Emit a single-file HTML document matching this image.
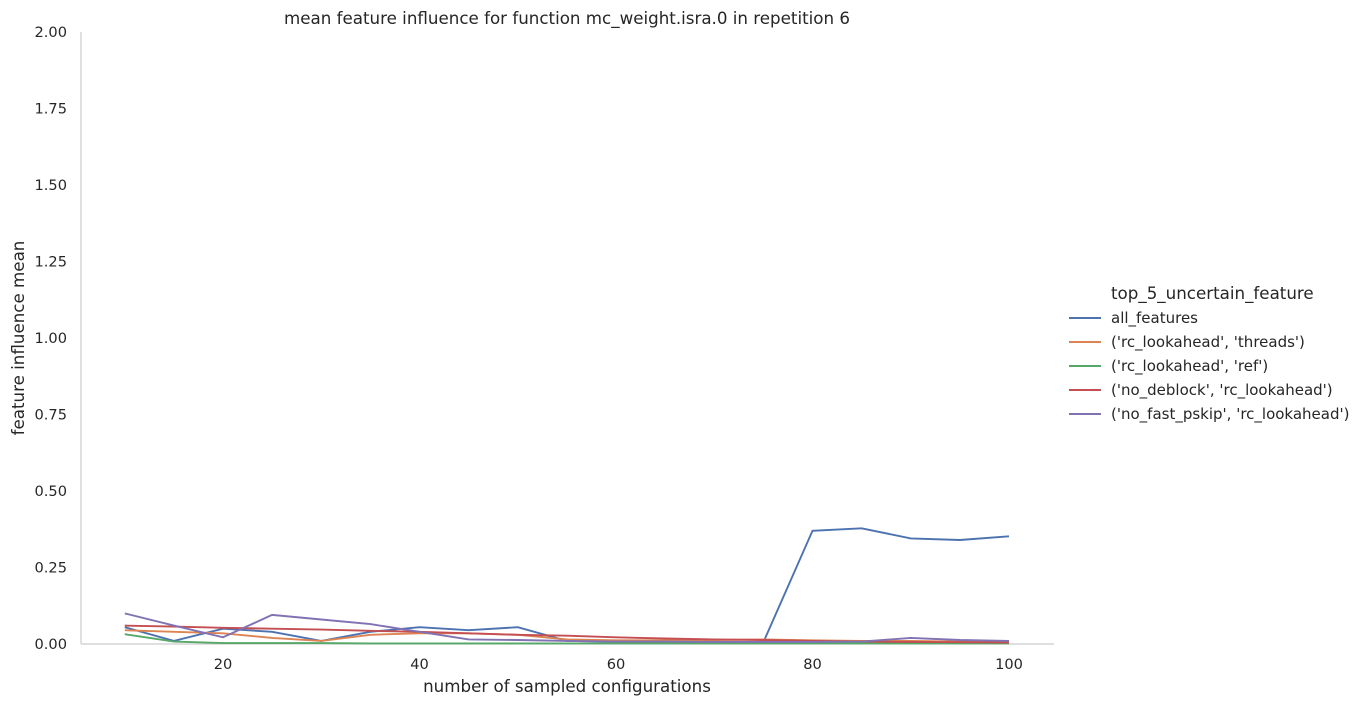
<!DOCTYPE html>
<html><head><meta charset="utf-8"><style>
body{margin:0;background:#fff;font-family:"DejaVu Sans","Liberation Sans",sans-serif;}
svg text{fill:#262626;font-family:"DejaVu Sans","Liberation Sans",sans-serif;}
</style></head><body>
<svg id="chart" width="1368" height="706"></svg>
<script>
const xValues=[10,15,20,25,30,35,40,45,50,55,60,65,70,75,80,85,90,95,100];
const seriesNames=["all_features","('rc_lookahead', 'threads')","('rc_lookahead', 'ref')","('no_deblock', 'rc_lookahead')","('no_fast_pskip', 'rc_lookahead')"];
const seriesColors=["#4c72b0","#dd8452","#55a868","#c44e52","#8172b3"];
const allFeatures=[0.055,0.01,0.05,0.04,0.01,0.04,0.055,0.045,0.055,0.01,0.008,0.007,0.006,0.006,0.37,0.378,0.345,0.34,0.352];
const threadsVals=[0.045,0.04,0.035,0.02,0.01,0.03,0.035,0.035,0.03,0.015,0.012,0.012,0.013,0.015,0.012,0.01,0.01,0.008,0.008];
const refVals=[0.032,0.008,0.003,0.003,0.003,0.002,0.002,0.002,0.002,0.002,0.002,0.002,0.002,0.002,0.002,0.002,0.002,0.002,0.002];
const deblockVals=[0.06,0.057,0.053,0.05,0.047,0.043,0.04,0.035,0.03,0.027,0.022,0.018,0.015,0.013,0.01,0.008,0.007,0.006,0.005];
const pskipVals=[0.1,0.06,0.022,0.095,0.08,0.065,0.04,0.015,0.013,0.01,0.008,0.008,0.007,0.007,0.007,0.008,0.02,0.013,0.01];
const allSeries=[allFeatures,threadsVals,refVals,deblockVals,pskipVals];
const xTicks=[20,40,60,80,100];
const yTicks=[0,0.25,0.5,0.75,1.0,1.25,1.5,1.75,2.0];
const NS="http://www.w3.org/2000/svg";
const svg=document.getElementById('chart');
const xs=v=>223+(v-20)*(1009-223)/80;
const ys=v=>644-v*306;
function mk(t,a,p){const e=document.createElementNS(NS,t);for(const k in a)e.setAttribute(k,a[k]);(p||svg).appendChild(e);return e;}
let e;
e=mk('line',{x1:81,y1:32,x2:81,y2:644,stroke:'#ccc','stroke-width':1.2});


e=mk('line',{x1:81,y1:644,x2:1054,y2:644,stroke:'#ccc','stroke-width':1.2});


yTicks.forEach(v=>{e=mk('text',{x:67,y:ys(v)+5,'text-anchor':'end','font-size':14.6});e.textContent=v.toFixed(2);

});
xTicks.forEach(v=>{e=mk('text',{x:xs(v),y:669,'text-anchor':'middle','font-size':14.6});e.textContent=v;

});
e=mk('text',{x:567,y:692,'text-anchor':'middle','font-size':16.7});e.textContent='number of sampled configurations';


e=mk('text',{x:24,y:338,'text-anchor':'middle','font-size':16.7,transform:'rotate(-90 24 338)'});e.textContent='feature influence mean';


e=mk('text',{x:567,y:24,'text-anchor':'middle','font-size':16.7});e.textContent='mean feature influence for function mc_weight.isra.0 in repetition 6';


allSeries.forEach((s,i)=>{
  const d=s.map((v,j)=>(j?'L':'M')+xs(xValues[j]).toFixed(1)+','+ys(v).toFixed(1)).join(' ');
  e=mk('path',{d:d,fill:'none',stroke:seriesColors[i],'stroke-width':1.9});
  
  
});
e=mk('text',{x:1111,y:299,'font-size':16.7});e.textContent='top_5_uncertain_feature';


seriesNames.forEach((n,i)=>{
  const y=318+i*24;
  e=mk('line',{x1:1069,y1:y,x2:1101,y2:y,stroke:seriesColors[i],'stroke-width':1.9});
  
  
  e=mk('text',{x:1111,y:y+5,'font-size':15});e.textContent=n;
  
  
});
</script>
</body></html>
